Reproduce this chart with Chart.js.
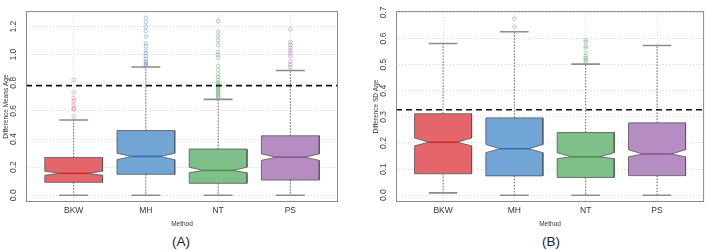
<!DOCTYPE html>
<html>
<head>
<meta charset="utf-8">
<script src="https://cdn.jsdelivr.net/npm/chart.js@4.4.1/dist/chart.umd.min.js"></script>
<style>
  body { margin: 0; background: #fff; width: 709px; height: 250px; position: relative; overflow: hidden;
         font-family: "Liberation Sans", Arial, sans-serif; }
  canvas { position: absolute; top: 0; }
  #chartA { left: 0; }
  #chartB { left: 370px; }
  .tag { position: absolute; top: 234px; line-height: 16px; font-size: 13.5px; color: #222;
         transform: translateX(-50%); white-space: nowrap; }
</style>
</head>
<body>
<canvas id="chartA" width="345" height="232"></canvas>
<canvas id="chartB" width="339" height="232"></canvas>
<div class="tag" style="left:181px">(A)</div>
<div class="tag" style="left:551px">(B)</div>

<script>
// categories
const methods = ["BKW", "MH", "NT", "PS"];

// (A) Difference Means Age
const meanLow     = [0.000, 0.000, 0.000, 0.000];
const meanQ1      = [0.092, 0.149, 0.085, 0.108];
const meanNotchLo = [0.142, 0.253, 0.160, 0.248];
const meanMedian  = [0.156, 0.276, 0.177, 0.271];
const meanNotchHi = [0.171, 0.299, 0.199, 0.294];
const meanQ3      = [0.269, 0.460, 0.329, 0.423];
const meanHigh    = [0.535, 0.912, 0.682, 0.887];
const meanOutBKW  = [0.82, 0.73, 0.69, 0.67, 0.64, 0.62, 0.61, 0.56];
const meanOutMH   = [1.26, 1.23, 1.20, 1.17, 1.13, 1.08, 1.06, 1.03, 1.01, 0.99, 0.97, 0.95, 0.94, 0.93, 0.92];
const meanOutNT   = [1.24, 1.16, 1.13, 1.10, 1.07, 1.02, 1.00, 0.98, 0.92, 0.89, 0.86, 0.84, 0.82, 0.80,
                     0.79, 0.78, 0.77, 0.76, 0.75, 0.74, 0.73, 0.72, 0.71, 0.70, 0.69];
const meanOutPS   = [1.18, 1.09, 1.07, 1.05, 1.03, 1.01, 0.99, 0.95, 0.93, 0.91];
const meanRef     = 0.78;
const meanTicks   = [0, 0.2, 0.4, 0.6, 0.8, 1.0, 1.2];

// (B) Difference SD Age
const sdLow     = [0.009, 0.000, 0.000, 0.000];
const sdQ1      = [0.082, 0.074, 0.068, 0.075];
const sdNotchLo = [0.189, 0.163, 0.140, 0.147];
const sdMedian  = [0.203, 0.178, 0.147, 0.158];
const sdNotchHi = [0.219, 0.194, 0.163, 0.174];
const sdQ3      = [0.312, 0.296, 0.240, 0.277];
const sdHigh    = [0.581, 0.626, 0.502, 0.573];
const sdOutBKW  = [];
const sdOutMH   = [0.676, 0.646];
const sdOutNT   = [0.595, 0.588, 0.572, 0.565, 0.545, 0.532, 0.525, 0.518, 0.512];
const sdOutPS   = [];
const sdRef     = 0.327;
const sdTicks   = [0, 0.1, 0.2, 0.3, 0.4, 0.5, 0.6, 0.7];

const boxFill  = ["#E4666B", "#70A5D5", "#7EBF8A", "#B68DC2"];
const medColor = ["#C8282E", "#2F6EA8", "#3E9446", "#84519A"];
const outColor = ["rgba(228,110,115,0.55)", "rgba(95,150,205,0.55)", "rgba(95,175,110,0.55)", "rgba(160,115,175,0.55)"];

const frame = {
  id: "frame",
  afterDraw(chart) {
    const { ctx, chartArea: a } = chart;
    ctx.save();
    ctx.strokeStyle = "#8a8a8a";
    ctx.lineWidth = 1;
    ctx.strokeRect(a.left + 0.5, a.top + 0.5, a.right - a.left - 1, a.bottom - a.top - 1);
    ctx.restore();
  }
};

function buildPanel(id, s) {
  const w = 0.4, nw = 0.2, cap = 0.2;
  const datasets = [];

  methods.forEach((m, i) => {
    const x = i + 1;
    // whiskers
    datasets.push({
      data: [{x, y: s.q3[i]}, {x, y: s.high[i]}, {x, y: null}, {x, y: s.q1[i]}, {x, y: s.low[i]}],
      showLine: true, borderColor: "#6a6a6a", borderWidth: 1, borderDash: [1.5, 1.5],
      pointRadius: 0, order: 6
    });
    // notched box
    datasets.push({
      data: [
        {x: x - w, y: s.q1[i]}, {x: x - w, y: s.nlo[i]}, {x: x - nw, y: s.med[i]},
        {x: x - w, y: s.nhi[i]}, {x: x - w, y: s.q3[i]}, {x: x + w, y: s.q3[i]},
        {x: x + w, y: s.nhi[i]}, {x: x + nw, y: s.med[i]}, {x: x + w, y: s.nlo[i]},
        {x: x + w, y: s.q1[i]}, {x: x - w, y: s.q1[i]}
      ],
      showLine: true, fill: "shape", backgroundColor: boxFill[i],
      borderColor: "#555", borderWidth: 0.8, pointRadius: 0, order: 5
    });
    // median
    datasets.push({
      data: [{x: x - nw, y: s.med[i]}, {x: x + nw, y: s.med[i]}],
      showLine: true, borderColor: medColor[i], borderWidth: 1.5, pointRadius: 0, order: 4
    });
    // caps
    datasets.push({
      data: [{x: x - cap, y: s.high[i]}, {x: x + cap, y: s.high[i]}, {x, y: null},
             {x: x - cap, y: s.low[i]}, {x: x + cap, y: s.low[i]}],
      showLine: true, borderColor: "#8c8c8c", borderWidth: 1.6, pointRadius: 0, order: 4
    });
    // outliers
    datasets.push({
      data: s.out[i].map(v => ({x, y: v})),
      pointRadius: 1.8, pointBorderWidth: 0.9, pointBorderColor: outColor[i],
      pointBackgroundColor: "rgba(0,0,0,0)", order: 3
    });
  });

  // reference line
  datasets.push({
    data: [{x: 0.34, y: s.ref}, {x: 4.66, y: s.ref}],
    showLine: true, borderColor: "#111", borderWidth: 1.6, borderDash: [6, 4],
    pointRadius: 0, order: 1
  });

  return new Chart(document.getElementById(id), {
    type: "scatter",
    data: { datasets },
    options: {
      responsive: false,
      animation: false,
      layout: { padding: { left: 0, right: s.padRight, top: 5, bottom: 0 } },
      plugins: { legend: { display: false }, tooltip: { enabled: false } },
      scales: {
        x: {
          type: "linear", min: 0.34, max: 4.66,
          afterBuildTicks: sc => { sc.ticks = methods.map((m, i) => ({ value: i + 1 })); },
          afterFit: sc => { sc.height = 30; },
          ticks: { callback: v => methods[v - 1], color: "#333", padding: 4,
                   font: { size: 8.5 }, maxRotation: 0, autoSkip: false },
          grid: { color: "#d8d8d8", lineWidth: 1, drawTicks: false },
          border: { display: false, dash: [1, 2] },
          title: { display: true, text: "Method", color: "#333", font: { size: 6.5 },
                   padding: { top: 0, bottom: 3.5 } }
        },
        y: {
          min: s.min, max: s.max,
          afterBuildTicks: sc => { sc.ticks = s.ticks.map(v => ({ value: v })); },
          afterFit: sc => { sc.width = 26; },
          ticks: { callback: v => v.toFixed(1), color: "#444", font: { size: 8.5 },
                   minRotation: 90, maxRotation: 90, crossAlign: "center", padding: 6 },
          grid: { color: "#d8d8d8", lineWidth: 1, drawTicks: false },
          border: { display: false, dash: [1, 2] },
          title: { display: true, text: s.title, color: "#333", font: { size: 6.5 },
                   padding: { top: 2, bottom: 0 } }
        }
      }
    },
    plugins: [frame]
  });
}

Chart.defaults.font.family = '"Liberation Sans", Arial, sans-serif';

buildPanel("chartA", {
  low: meanLow, q1: meanQ1, nlo: meanNotchLo, med: meanMedian, nhi: meanNotchHi,
  q3: meanQ3, high: meanHigh, out: [meanOutBKW, meanOutMH, meanOutNT, meanOutPS],
  ref: meanRef, ticks: meanTicks, min: -0.048, max: 1.31,
  title: "Difference Means Age", padRight: 7
});

buildPanel("chartB", {
  low: sdLow, q1: sdQ1, nlo: sdNotchLo, med: sdMedian, nhi: sdNotchHi,
  q3: sdQ3, high: sdHigh, out: [sdOutBKW, sdOutMH, sdOutNT, sdOutPS],
  ref: sdRef, ticks: sdTicks, min: -0.026, max: 0.705,
  title: "Difference SD Age", padRight: 2
});
</script>
</body>
</html>
